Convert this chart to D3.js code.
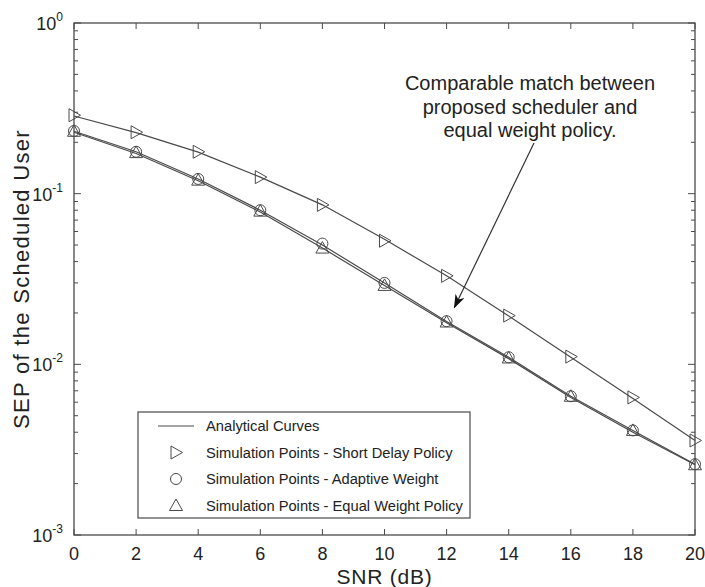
<!DOCTYPE html>
<html>
<head>
<meta charset="utf-8">
<script src="https://cdn.jsdelivr.net/npm/d3@7"></script>
<style>
  body { margin: 0; background: #fff; }
  text { font-family: "Liberation Sans", Arial, sans-serif; fill: #222; }
</style>
</head>
<body>
<script>
// values
var snr = [0, 2, 4, 6, 8, 10, 12, 14, 16, 18, 20];
var shortDelaySim = [0.288, 0.229, 0.176, 0.125, 0.086, 0.053, 0.033, 0.0193, 0.0111, 0.0064, 0.00358];
var shortDelayAna = [0.285, 0.228, 0.175, 0.125, 0.086, 0.054, 0.033, 0.0192, 0.0110, 0.0063, 0.00358];
var adaptiveSim = [0.233, 0.176, 0.122, 0.080, 0.051, 0.030, 0.0179, 0.0110, 0.0065, 0.0041, 0.0026];
var adaptiveAna = [0.232, 0.176, 0.122, 0.080, 0.050, 0.030, 0.0178, 0.0110, 0.0065, 0.0041, 0.0026];
var equalSim = [0.232, 0.174, 0.120, 0.079, 0.048, 0.029, 0.0177, 0.0109, 0.0065, 0.0041, 0.00258];
var equalAna = [0.229, 0.172, 0.119, 0.078, 0.048, 0.029, 0.0175, 0.0108, 0.0064, 0.0040, 0.00258];
var legendLabels = ["Analytical Curves", "Simulation Points - Short Delay Policy",
  "Simulation Points - Adaptive Weight", "Simulation Points - Equal Weight Policy"];
var noteLines = ["Comparable match between", "proposed scheduler and", "equal weight policy."];

var width = 705, height = 587;
var margin = {left: 74, right: 10, top: 23, bottom: 52};
var ink = "#4a4a4a";

var svg = d3.select("body").append("svg")
  .attr("width", width)
  .attr("height", height);

var x = d3.scaleLinear().domain([0, 20]).range([margin.left, width - margin.right]);
var y = d3.scaleLog().domain([1e-3, 1]).range([height - margin.bottom, margin.top]);

var x0 = x.range()[0], x1 = x.range()[1], y0 = y.range()[0], y1 = y.range()[1];

// minor + major ticks on the log axis
var logTicks = [];
[-3, -2, -1].forEach(function(e) {
  for (var m = 1; m <= 9; m++) logTicks.push(m * Math.pow(10, e));
});
logTicks.push(1);

var axes = svg.append("g").attr("stroke", ink).attr("fill", "none");

// y ticks both sides, pointing in
logTicks.forEach(function(v) {
  var major = Math.abs(Math.log10(v) - Math.round(Math.log10(v))) < 1e-9;
  var len = major ? 7 : 4;
  axes.append("line").attr("x1", x0).attr("x2", x0 + len).attr("y1", y(v)).attr("y2", y(v));
  axes.append("line").attr("x1", x1).attr("x2", x1 - len).attr("y1", y(v)).attr("y2", y(v));
});
// x ticks bottom and top
snr.forEach(function(v) {
  axes.append("line").attr("x1", x(v)).attr("x2", x(v)).attr("y1", y0).attr("y2", y0 - 6);
  axes.append("line").attr("x1", x(v)).attr("x2", x(v)).attr("y1", y1).attr("y2", y1 + 6);
});
axes.append("rect")
  .attr("x", x0).attr("y", y1)
  .attr("width", x1 - x0).attr("height", y0 - y1)
  .attr("stroke-width", 1.3);

// tick labels
svg.append("g").selectAll("text").data(snr).enter().append("text")
  .attr("x", function(d) { return x(d); })
  .attr("y", y0 + 25)
  .attr("text-anchor", "middle")
  .style("font-size", "18px")
  .text(function(d) { return d; });

var yl = svg.append("g").selectAll("text").data([1, 0.1, 0.01, 0.001]).enter().append("text")
  .attr("x", x0 - 11)
  .attr("y", function(d) { return y(d) + 7; })
  .attr("text-anchor", "end")
  .style("font-size", "18px");
yl.append("tspan").text("10");
yl.append("tspan").attr("dy", -9).style("font-size", "12px")
  .text(function(d) { var e = Math.round(Math.log10(d)); return e === 0 ? "0" : "-" + (-e); });

// axis titles
svg.append("text")
  .attr("x", (x0 + x1) / 2).attr("y", height - 3)
  .attr("text-anchor", "middle")
  .style("font-size", "21px")
  .style("letter-spacing", "0.8px")
  .text("SNR (dB)");
svg.append("text")
  .attr("transform", "translate(29," + ((y0 + y1) / 2) + ") rotate(-90)")
  .attr("text-anchor", "middle")
  .style("font-size", "22px")
  .style("letter-spacing", "1.3px")
  .text("SEP of the Scheduled User");

// curves
var line = d3.line()
  .x(function(d, i) { return x(snr[i]); })
  .y(function(d) { return y(d); });

var plot = svg.append("g");
[shortDelayAna, adaptiveAna, equalAna].forEach(function(s) {
  plot.append("path").attr("d", line(s))
    .attr("fill", "none").attr("stroke", ink).attr("stroke-width", 1.2);
});

var sym = {
  tri: function(g, cx, cy) {
    g.append("path").attr("d", "M" + (cx - 5) + "," + (cy - 6.5) + "L" + (cx + 6.5) + "," + cy + "L" + (cx - 5) + "," + (cy + 6.5) + "Z");
  },
  circ: function(g, cx, cy) {
    g.append("circle").attr("cx", cx).attr("cy", cy).attr("r", 5.5);
  },
  up: function(g, cx, cy) {
    g.append("path").attr("d", "M" + cx + "," + (cy - 6.5) + "L" + (cx + 6.5) + "," + (cy + 5) + "L" + (cx - 6.5) + "," + (cy + 5) + "Z");
  }
};

var mk = plot.append("g").attr("fill", "none").attr("stroke", ink).attr("stroke-width", 1);
[[shortDelaySim, "tri"], [adaptiveSim, "circ"], [equalSim, "up"]].forEach(function(p) {
  p[0].forEach(function(v, i) { sym[p[1]](mk, x(snr[i]), y(v)); });
});

// legend
var lg = svg.append("g");
var lx = 138, ly = 412, lw = 332, lh = 106;
lg.append("rect").attr("x", lx).attr("y", ly).attr("width", lw).attr("height", lh)
  .attr("fill", "#fff").attr("stroke", ink).attr("stroke-width", 1.2);
var lgm = lg.append("g").attr("fill", "none").attr("stroke", ink);
legendLabels.forEach(function(t, i) {
  var ry = ly + 14 + i * 26.5;
  if (i === 0) {
    lgm.append("line").attr("x1", lx + 20).attr("x2", lx + 56).attr("y1", ry).attr("y2", ry).attr("stroke-width", 1.2);
  } else {
    sym[["tri", "circ", "up"][i - 1]](lgm, lx + 38, ry);
  }
  lg.append("text").attr("x", lx + 68).attr("y", ry + 5)
    .style("font-size", "14.7px").text(t);
});

// annotation
var nt = svg.append("g");
noteLines.forEach(function(t, i) {
  nt.append("text").attr("x", 530).attr("y", 90 + i * 23.5)
    .attr("text-anchor", "middle").style("font-size", "20px").text(t);
});
svg.append("defs").append("marker")
  .attr("id", "ah").attr("viewBox", "0 0 14 10")
  .attr("refX", 13).attr("refY", 5)
  .attr("markerWidth", 15).attr("markerHeight", 10)
  .attr("markerUnits", "userSpaceOnUse")
  .attr("orient", "auto")
  .append("path").attr("d", "M0,0 L14,5 L0,10 L4,5 Z").attr("fill", "#111");
svg.append("line")
  .attr("x1", 534).attr("y1", 143)
  .attr("x2", x(12.25)).attr("y2", y(0.0215))
  .attr("stroke", "#333").attr("stroke-width", 1.2)
  .attr("marker-end", "url(#ah)");
</script>
</body>
</html>
